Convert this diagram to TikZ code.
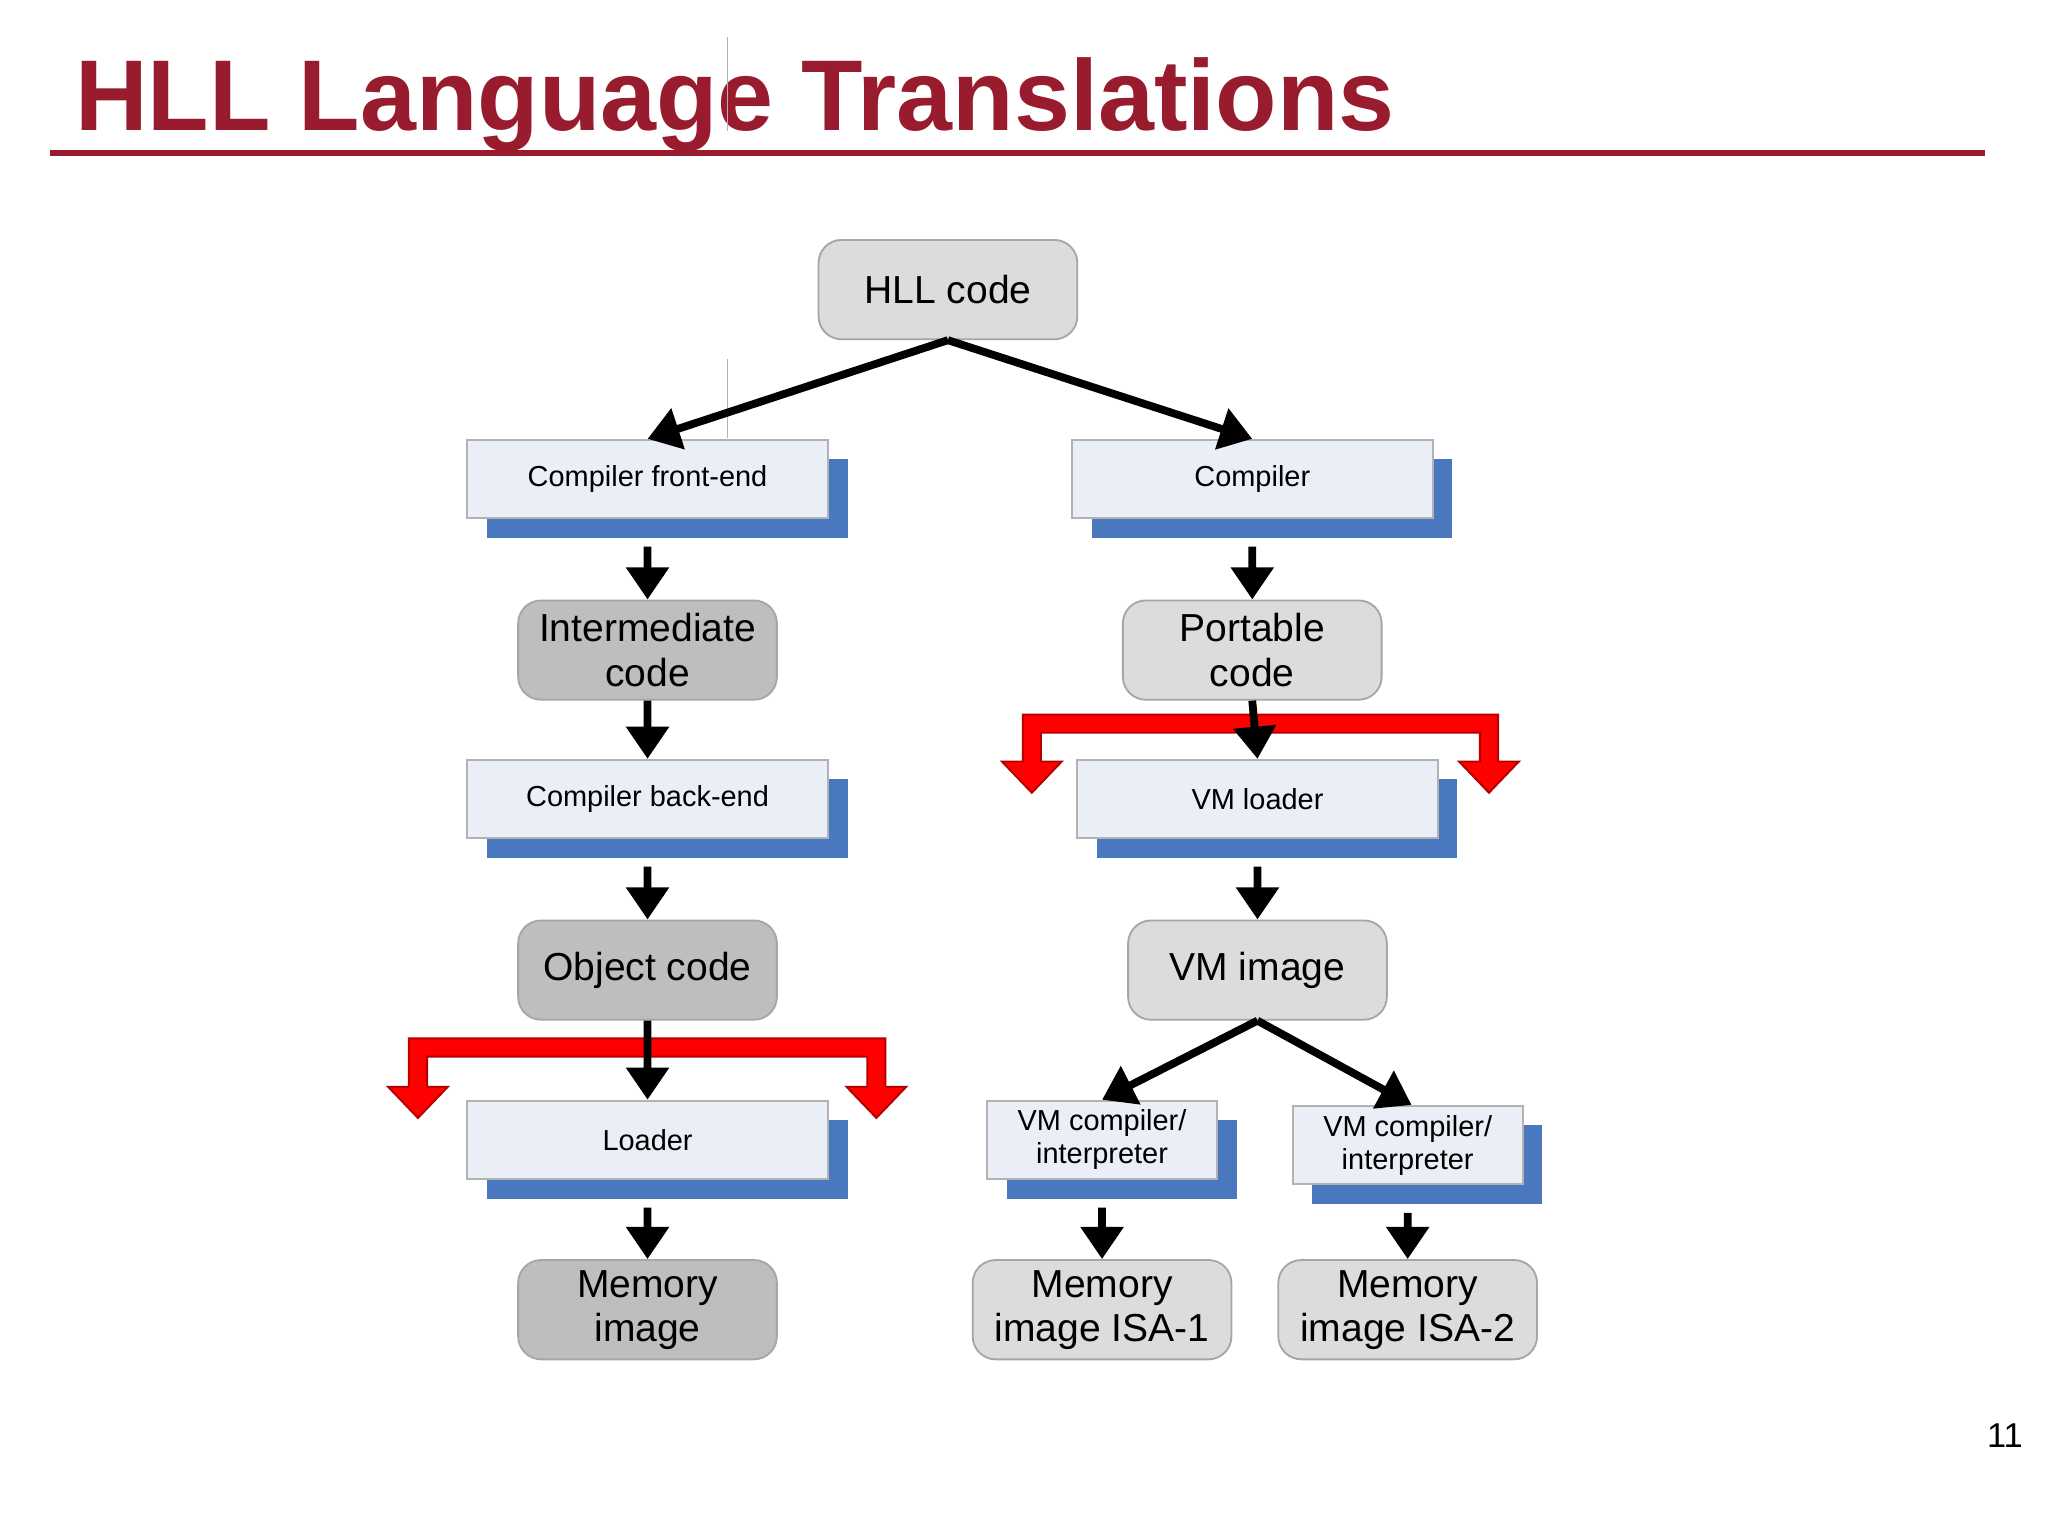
\documentclass[tikz,border=0pt]{standalone}
\usepackage{fontspec}
\setmainfont{Liberation Sans}
\usetikzlibrary{arrows.meta,shadows}
\definecolor{titlered}{HTML}{981B2E}
\definecolor{lightbox}{HTML}{DCDCDC}
\definecolor{darkbox}{HTML}{BEBEBE}
\definecolor{procfill}{HTML}{E9EEF7}
\definecolor{shadowblue}{HTML}{4A78BE}
\definecolor{fork}{HTML}{FF0000}
\begin{document}
\begin{tikzpicture}[x=0.01cm,y=-0.01cm,
  datab/.style={draw=gray!70,rounded corners=5pt,minimum width=1.98cm,minimum height=0.76cm,inner sep=0pt,align=center,font=\fontsize{8.5pt}{9.6pt}\selectfont,anchor=north west},
  lightb/.style={datab,fill=lightbox},
  darkb/.style={datab,fill=darkbox},
  procb/.style={draw=gray!60,fill=procfill,minimum width=2.76cm,minimum height=0.6cm,inner sep=0pt,align=center,font=\fontsize{6.3pt}{7.2pt}\selectfont,anchor=north west,
     general shadow={shadow xshift=0.15cm,shadow yshift=-0.15cm,fill=shadowblue}},
  arr/.style={line width=1.7pt,-{Triangle[length=7pt,width=9pt]}},
  forkst/.style={fill=fork,draw=fork!70!black,line width=0.4pt}]
\useasboundingbox (0,0) rectangle (1568,1176);
\fill[white] (0,0) rectangle (1568,1176);
% title
\node[anchor=base west,inner sep=0pt,text=titlered,font=\fontsize{21.9pt}{24pt}\selectfont\bfseries] (title) at (57,100) {HLL Language Translations};
\draw[titlered,line width=1.2pt] (38,117) -- (1520,117);
\draw[gray!60,line width=0.3pt] (557,28) -- (557,100);
\draw[gray!60,line width=0.3pt] (557,275) -- (557,335);
\node[anchor=base,font=\fontsize{7.5pt}{8pt}\selectfont] (pnum) at (1535,1108) {11};
% data boxes
\node[lightb] (hll) at (626,183) {HLL code};
\node[darkb] (inter) at (396,459) {Intermediate\\code};
\node[darkb] (obj) at (396,704) {Object code};
\node[darkb] (mem) at (396,964) {Memory\\image};
\node[lightb] (port) at (859,459) {Portable\\code};
\node[lightb] (vmimg) at (863,704) {VM image};
\node[lightb] (mem1) at (744,964) {Memory\\image ISA-1};
\node[lightb] (mem2) at (978,964) {Memory\\image ISA-2};
% process boxes
\node[procb] (cfe) at (357,336) {Compiler front-end};
\node[procb] (comp) at (820,336) {Compiler};
\node[procb] (cbe) at (357,581) {Compiler back-end};
\node[procb] (vml) at (824,581) {VM loader};
\node[procb] (load) at (357,842) {Loader};
\node[procb,minimum width=1.76cm] (vmc1) at (755,842) {VM compiler/\\interpreter};
\node[procb,minimum width=1.76cm] (vmc2) at (989,846) {VM compiler/\\interpreter};
% red forks
\path[forkst] (783,547) -- (1147,547) -- (1147,583) -- (1163,583) -- (1140,607) -- (1117,583) -- (1133,583) -- (1133,561) -- (797,561) -- (797,583) -- (813,583) -- (790,607) -- (767,583) -- (783,583) -- cycle;
\path[forkst] (313,795) -- (678,795) -- (678,832) -- (694,832) -- (671,856) -- (648,832) -- (664,832) -- (664,809) -- (327,809) -- (327,832) -- (343,832) -- (320,856) -- (297,832) -- (313,832) -- cycle;
% arrows
\draw[arr] (hll.south) -- (cfe.north);
\draw[arr] (hll.south) -- (comp.north);
\draw[arr] ([yshift=-6pt]cfe.south) -- (inter.north);
\draw[arr] (inter.south) -- (cbe.north);
\draw[arr] ([yshift=-6pt]cbe.south) -- (obj.north);
\draw[arr] (obj.south) -- (load.north);
\draw[arr] ([yshift=-6pt]load.south) -- (mem.north);
\draw[arr] ([yshift=-6pt]comp.south) -- (port.north);
\draw[arr] (port.south) -- (vml.north);
\draw[arr] ([yshift=-6pt]vml.south) -- (vmimg.north);
\draw[arr] (vmimg.south) -- (vmc1.north);
\draw[arr] (vmimg.south) -- ([xshift=0.03cm]vmc2.north);
\draw[arr] ([yshift=-6pt]vmc1.south) -- (mem1.north);
\draw[arr] ([yshift=-6pt]vmc2.south) -- (mem2.north);
\end{tikzpicture}
\end{document}
